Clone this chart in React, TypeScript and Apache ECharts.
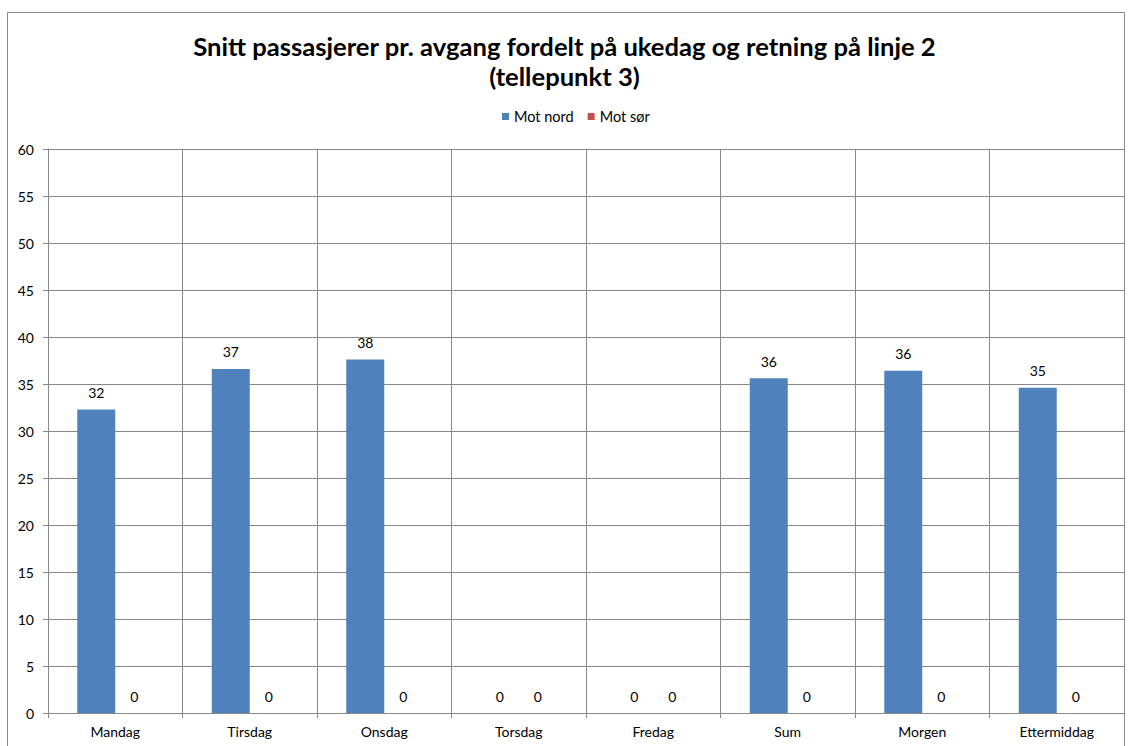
import React, { useEffect, useRef } from "react";
import * as echarts from "echarts";

const categories = ["Mandag", "Tirsdag", "Onsdag", "Torsdag", "Fredag", "Sum", "Morgen", "Ettermiddag"];
const motNord = [32.3, 36.6, 37.6, 0, 0, 35.6, 36.4, 34.6];
const motSor = [0, 0, 0, 0, 0, 0, 0, 0];
const titleText = "Snitt passasjerer pr. avgang fordelt på ukedag og retning på linje 2\n(tellepunkt 3)";

export default function App() {
  const ref = useRef<HTMLDivElement>(null);
  useEffect(() => {
    if (!ref.current) return;
    const chart = echarts.init(ref.current, null, { renderer: "svg" });
    const font = "Lato, 'Noto Sans', sans-serif";
    const labelCfg = {
      show: true,
      position: "top" as const,
      distance: 10,
      color: "#000",
      fontSize: 14,
      fontFamily: font,
      formatter: (p: any) => String(Math.round(p.value)),
    };
    chart.setOption({
      animation: false,
      backgroundColor: "#fff",
      title: {
        text: titleText,
        left: "center",
        top: 26,
        textStyle: {
          fontFamily: font,
          fontWeight: "bold",
          fontSize: 25.6,
          lineHeight: 30,
          color: "#000",
        },
      },
      legend: {
        top: 104,
        left: 497,
        itemWidth: 7,
        itemHeight: 7,
        itemGap: 14,
        icon: "rect",
        textStyle: { fontSize: 14.5, color: "#000", fontFamily: font, padding: [0, 0, 0, 0] },
        data: ["Mot nord", "Mot sør"],
      },
      graphic: [
        {
          type: "rect",
          shape: { x: 7.5, y: 12.5, width: 1117, height: 745 },
          style: { fill: "none", stroke: "#888", lineWidth: 1 },
          silent: true,
        },
      ],
      grid: { left: 48, right: 5, top: 149, bottom: 33 },
      xAxis: {
        type: "category",
        data: categories,
        axisLine: { show: true, lineStyle: { color: "#888" } },
        axisTick: { show: true, length: 5, lineStyle: { color: "#888" } },
        splitLine: { show: true, interval: 0, lineStyle: { color: "#888", width: 1 } },
        axisLabel: { color: "#000", fontSize: 14, margin: 11, fontFamily: font, interval: 0 },
      },
      yAxis: {
        type: "value",
        min: 0,
        max: 60,
        interval: 5,
        axisLine: { show: true, lineStyle: { color: "#888" } },
        axisTick: { show: true, length: 5, lineStyle: { color: "#888" } },
        splitLine: { show: true, lineStyle: { color: "#888", width: 1 } },
        axisLabel: { color: "#000", fontSize: 14, margin: 14, fontFamily: font },
      },
      series: [
        {
          name: "Mot nord",
          type: "bar",
          data: motNord,
          barWidth: 38,
          barGap: "0%",
          itemStyle: { color: "#4F81BD" },
          label: labelCfg,
        },
        {
          name: "Mot sør",
          type: "bar",
          data: motSor,
          barWidth: 38,
          barGap: "0%",
          itemStyle: { color: "#C0504D" },
          label: labelCfg,
        },
      ],
    });
    return () => chart.dispose();
  }, []);
  return (
    <div
      ref={ref}
      style={{ position: "absolute", left: 0, top: 0, width: 1129, height: 746 }}
    />
  );
}
